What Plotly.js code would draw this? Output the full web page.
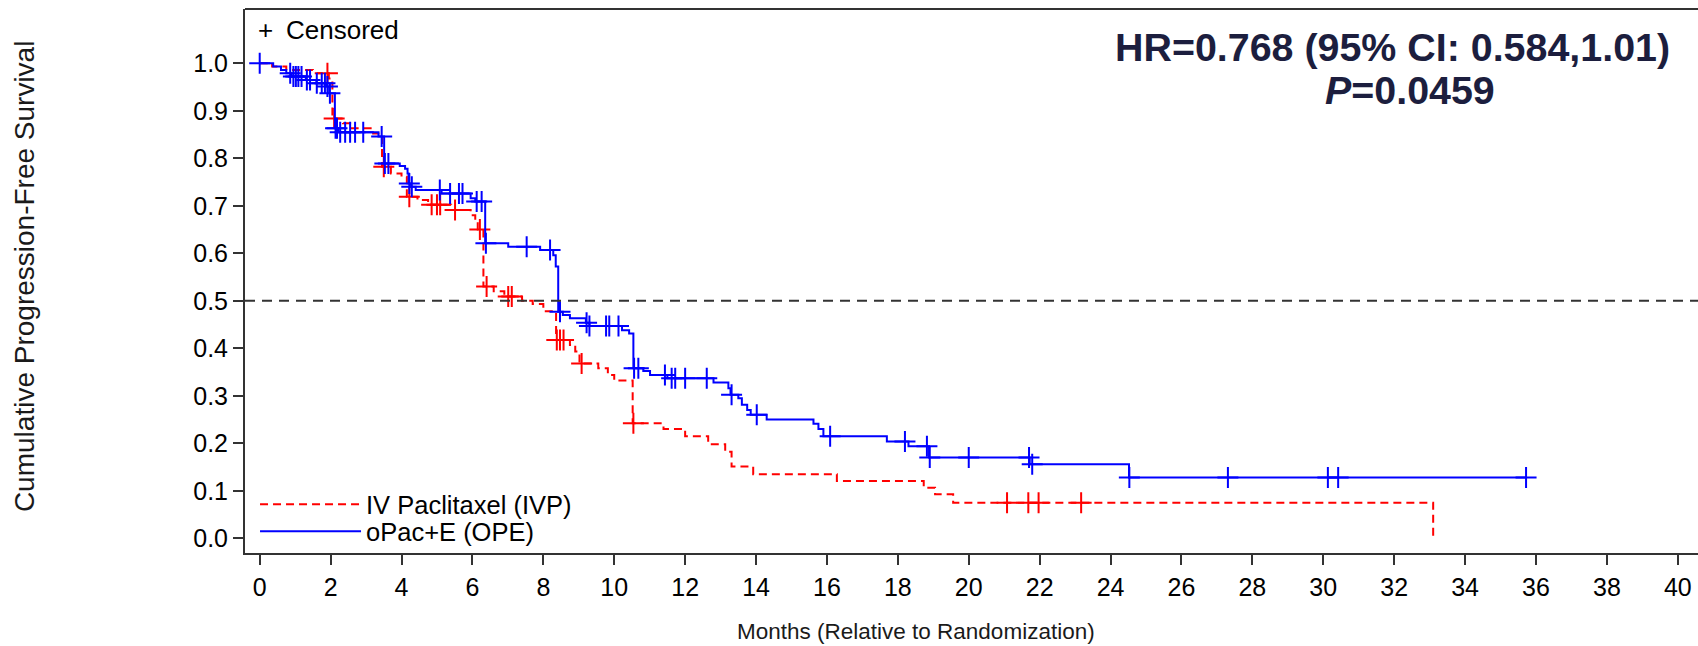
<!DOCTYPE html>
<html>
<head>
<meta charset="utf-8">
<script src="https://cdn.plot.ly/plotly-3.0.1.min.js"></script>
<style>
  html, body { margin: 0; padding: 0; background: #fff; }
  #chart { width: 1698px; height: 646px; }
</style>
</head>
<body>
<div id="chart"></div>
<script>
// ---------------- DATA ----------------
// oPac+E (OPE): Kaplan-Meier step times (months) and survival after each step
const opeTimes = [0, 0.38, 0.60, 0.75, 0.90, 1.30, 1.60, 1.88, 1.96, 2.12,
                  2.22, 3.35, 3.51, 3.95, 4.10, 4.17, 4.20, 4.27, 4.40, 5.13,
                  5.95, 6.08, 6.36, 7.01, 7.91, 8.28, 8.35, 8.42, 8.55, 8.75,
                  9.20, 9.30, 10.22, 10.42, 10.54, 10.82, 11.01, 11.50, 12.80, 13.22,
                  13.28, 13.50, 13.60, 13.75, 13.85, 14.30, 15.62, 15.76, 15.90, 17.69,
                  18.30, 18.88, 21.72, 24.52, 35.72];
const opeSurv  = [1.000, 0.993, 0.986, 0.979, 0.972, 0.965, 0.958, 0.951, 0.937, 0.863,
                  0.855, 0.846, 0.789, 0.784, 0.778, 0.768, 0.747, 0.740, 0.733, 0.726,
                  0.716, 0.709, 0.621, 0.614, 0.607, 0.596, 0.572, 0.477, 0.470, 0.463,
                  0.454, 0.447, 0.438, 0.431, 0.358, 0.352, 0.344, 0.337, 0.328, 0.316,
                  0.302, 0.295, 0.281, 0.270, 0.260, 0.250, 0.241, 0.230, 0.215, 0.204,
                  0.194, 0.170, 0.156, 0.128, 0.128];
const opeCensored = [0, 0.86, 0.95, 1.02, 1.09, 1.18, 1.33, 1.42, 1.61, 1.75,
                     1.84, 1.91, 1.98, 2.14, 2.18, 2.27, 2.41, 2.55, 2.69, 2.92,
                     3.44, 3.53, 3.63, 4.22, 4.29, 5.08, 5.37, 5.62, 5.72, 6.12,
                     6.26, 6.38, 7.53, 8.19, 8.47, 9.22, 9.30, 9.77, 9.86, 10.12,
                     10.56, 10.68, 11.43, 11.62, 11.72, 12.00, 12.61, 13.31, 14.02, 16.09,
                     18.20, 18.82, 18.90, 20.00, 21.70, 21.79, 24.53, 27.31, 30.13, 30.42,
                     35.72];

// IV Paclitaxel (IVP)
const ivpTimes = [0, 0.35, 0.75, 1.50, 1.95, 2.05, 2.35, 2.55, 3.20, 3.45,
                  3.70, 4.00, 4.15, 4.45, 4.75, 5.40, 5.95, 6.08, 6.15, 6.31,
                  6.60, 6.90, 7.40, 7.70, 8.00, 8.36, 8.75, 8.90, 9.02, 9.55,
                  9.82, 10.00, 10.52, 11.39, 12.00, 12.65, 13.13, 13.31, 13.92, 16.28,
                  18.73, 19.05, 19.56, 33.10];
const ivpSurv  = [1.000, 0.993, 0.986, 0.979, 0.968, 0.884, 0.874, 0.863, 0.852, 0.782,
                  0.768, 0.761, 0.719, 0.712, 0.702, 0.691, 0.680, 0.670, 0.650, 0.530,
                  0.520, 0.509, 0.500, 0.493, 0.478, 0.4175, 0.407, 0.393, 0.368, 0.358,
                  0.344, 0.332, 0.242, 0.230, 0.215, 0.198, 0.182, 0.151, 0.135, 0.1205,
                  0.1065, 0.0925, 0.075, 0.000];
const ivpCensored = [1.91, 2.10, 3.50, 4.22, 4.85, 5.00, 5.09, 5.51, 6.21, 6.40,
                     7.01, 7.11, 8.38, 8.47, 8.57, 9.08, 10.54, 21.08, 21.68, 21.97,
                     23.17];

const seriesNames = ["IV Paclitaxel (IVP)", "oPac+E (OPE)"];
const xTicks = [0, 2, 4, 6, 8, 10, 12, 14, 16, 18, 20, 22, 24, 26, 28, 30, 32, 34, 36, 38, 40];
const yTicks = [0, 0.1, 0.2, 0.3, 0.4, 0.5, 0.6, 0.7, 0.8, 0.9, 1.0];
const medianLine = 0.5;
const hrText = "HR=0.768 (95% CI: 0.584,1.01)";
const pText = "=0.0459";

// ---------------- HELPERS ----------------
function survAt(times, surv, t) {
  let s = surv[0];
  for (let i = 0; i < times.length; i++) {
    if (times[i] <= t) s = surv[i]; else break;
  }
  return s;
}

const FONT = "Liberation Sans, Arial, Helvetica, sans-serif";
const RED = "#ff0000";
const BLUE = "#0000ff";
const NAVY = "#1c1e3e";

const traces = [
  {
    x: ivpTimes, y: ivpSurv, type: "scatter", mode: "lines",
    line: { shape: "hv", color: RED, width: 2, dash: "8px,5px" },
    name: seriesNames[0], showlegend: true, legend: "legend"
  },
  {
    x: ivpCensored, y: ivpCensored.map(t => survAt(ivpTimes, ivpSurv, t)),
    type: "scatter", mode: "markers", showlegend: false,
    marker: { symbol: "cross-thin", size: 15, color: RED, line: { color: RED, width: 2 } }
  },
  {
    x: opeTimes, y: opeSurv, type: "scatter", mode: "lines",
    line: { shape: "hv", color: BLUE, width: 2 },
    name: seriesNames[1], showlegend: true, legend: "legend2"
  },
  {
    x: opeCensored, y: opeCensored.map(t => survAt(opeTimes, opeSurv, t)),
    type: "scatter", mode: "markers", showlegend: false,
    marker: { symbol: "cross-thin", size: 15, color: BLUE, line: { color: BLUE, width: 2 } }
  }
];

const legendBase = {
  xanchor: "left", yanchor: "middle", bgcolor: "rgba(0,0,0,0)",
  itemwidth: 101, borderwidth: 0,
  font: { family: FONT, size: 25.5, color: "#000" }
};

const layout = {
  width: 1698, height: 646,
  margin: { l: 245, r: 0, t: 9, b: 93 },
  paper_bgcolor: "#fff", plot_bgcolor: "#fff",
  font: { family: FONT, size: 22, color: "#000" },
  showlegend: true,
  legend: Object.assign({ x: 0.0069, y: 0.089 }, legendBase),
  legend2: Object.assign({ x: 0.0069, y: 0.039 }, legendBase),
  xaxis: {
    range: [-0.415, 40.57], tickvals: xTicks, ticktext: xTicks.map(String),
    showgrid: false, zeroline: false, showline: true, linecolor: "#333", linewidth: 2,
    ticks: "outside", ticklen: 10, tickwidth: 2, tickcolor: "#333",
    ticklabelstandoff: 1,
    tickfont: { family: FONT, size: 25, color: "#000" }
  },
  yaxis: {
    range: [-0.031, 1.1143], tickvals: yTicks, ticktext: yTicks.map(v => v.toFixed(1)),
    showgrid: false, zeroline: false, showline: true, linecolor: "#333", linewidth: 2,
    ticks: "outside", ticklen: 10, tickwidth: 2, tickcolor: "#333",
    tickfont: { family: FONT, size: 25, color: "#000" }
  },
  shapes: [
    { type: "line", xref: "paper", yref: "paper", x0: 0, x1: 1, y0: 1, y1: 1,
      line: { color: "#333", width: 2 } },
    { type: "line", xref: "paper", yref: "y", x0: 0, x1: 1, y0: medianLine, y1: medianLine,
      line: { color: "#333", width: 2, dash: "10px,7px" } }
  ],
  annotations: [
    { xref: "paper", yref: "paper", x: 0.4618, y: -0.145, xanchor: "center", yanchor: "middle",
      text: "Months (Relative to Randomization)", showarrow: false,
      font: { family: FONT, size: 22.5, color: "#1a1a1a" } },
    { xref: "paper", yref: "paper", x: -0.1521, y: 0.509, xanchor: "center", yanchor: "middle",
      text: "Cumulative Progression-Free Survival", textangle: -90, showarrow: false,
      font: { family: FONT, size: 28, color: "#1a1a1a" } },
    { xref: "paper", yref: "paper", x: 0.0138, y: 0.9605, xanchor: "center", yanchor: "middle",
      text: "+", showarrow: false,
      font: { family: FONT, size: 26, color: "#000" } },
    { xref: "paper", yref: "paper", x: 0.0268, y: 0.9605, xanchor: "left", yanchor: "middle",
      text: "Censored", showarrow: false,
      font: { family: FONT, size: 26, color: "#000" } },
    { xref: "paper", yref: "paper", x: 0.790, y: 0.930, xanchor: "center", yanchor: "middle",
      text: "<b>" + hrText + "</b>", showarrow: false,
      font: { family: FONT, size: 39.4, color: NAVY } },
    { xref: "paper", yref: "paper", x: 0.802, y: 0.852, xanchor: "center", yanchor: "middle",
      text: "<b><i>P</i>" + pText + "</b>", showarrow: false,
      font: { family: FONT, size: 39.4, color: NAVY } }
  ]
};

Plotly.newPlot("chart", traces, layout, { displayModeBar: false, staticPlot: true });
</script>
</body>
</html>
